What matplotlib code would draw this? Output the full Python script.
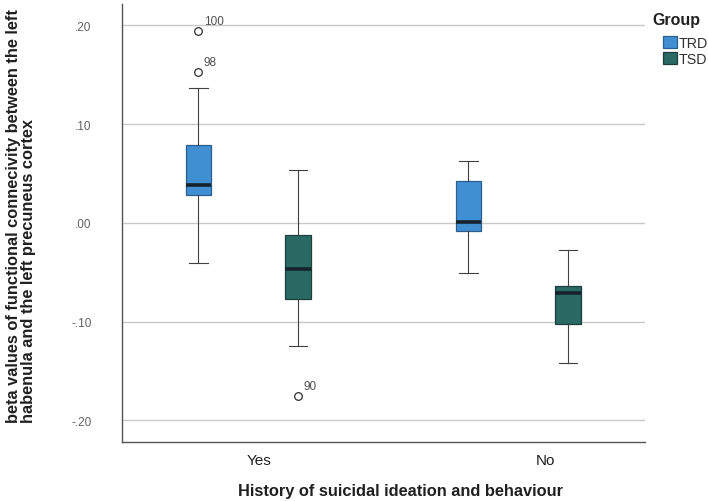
import matplotlib
matplotlib.use("Agg")
import matplotlib.pyplot as plt
import matplotlib.transforms as mtransforms
from matplotlib.patches import Patch

plt.rcParams["font.family"] = ["Liberation Sans", "DejaVu Sans"]

categories = ["Yes", "No"]
groups = ["TRD", "TSD"]
# stats per group, per category (Yes, No)
medians = {"TRD": [0.038, 0.001], "TSD": [-0.047, -0.071]}
q1 = {"TRD": [0.028, -0.008], "TSD": [-0.077, -0.102]}
q3 = {"TRD": [0.079, 0.042], "TSD": [-0.012, -0.064]}
whislo = {"TRD": [-0.041, -0.051], "TSD": [-0.125, -0.142]}
whishi = {"TRD": [0.137, 0.063], "TSD": [0.054, -0.027]}
outliers = {"TRD": [[0.153, 0.194], []], "TSD": [[-0.175], []]}
outlier_ids = {"TRD": [["98", "100"], []], "TSD": [["90"], []]}
yticks = [0.20, 0.10, 0.00, -0.10, -0.20]
ytick_labels = [".20", ".10", ".00", "-.10", "-.20"]

colors = {"TRD": "#408fd3", "TSD": "#2a6a64"}
edges = {"TRD": "#2a5f8f", "TSD": "#1f3f3c"}
offsets = {"TRD": -0.185, "TSD": 0.185}
label_shift_px = [11, 27]

fig = plt.figure(figsize=(7.08, 5.02), dpi=100)
ax = fig.add_axes([0.1723, 0.1175, 0.7387, 0.873])

for g in groups:
    stats = []
    pos = []
    for i, c in enumerate(categories):
        stats.append(dict(med=medians[g][i], q1=q1[g][i], q3=q3[g][i],
                          whislo=whislo[g][i], whishi=whishi[g][i],
                          fliers=outliers[g][i], label=c))
        pos.append(i + offsets[g])
    ax.bxp(stats, positions=pos, widths=0.093, patch_artist=True,
           boxprops=dict(facecolor=colors[g], edgecolor=edges[g], linewidth=0.9),
           medianprops=dict(color="#16232d", linewidth=2.6),
           whiskerprops=dict(color="#404040", linewidth=0.8),
           capprops=dict(color="#404040", linewidth=0.8),
           capwidths=0.07,
           flierprops=dict(marker="o", markersize=5.5, markerfacecolor="white",
                           markeredgecolor="#303030", markeredgewidth=0.9),
           manage_ticks=False, zorder=3)
    for i in range(len(categories)):
        for v, lab in zip(outliers[g][i], outlier_ids[g][i]):
            ax.annotate(lab, (i + offsets[g], v), xytext=(4, 5),
                        textcoords="offset points", fontsize=8.5, color="#505050",
                        zorder=4)

ax.set_xlim(-0.467, 1.47)
ax.set_ylim(-0.222, 0.222)
ax.set_yticks(yticks)
ax.set_yticklabels(ytick_labels, color="#606060", fontsize=8.5)
ax.set_xticks(range(len(categories)))
ax.set_xticklabels(categories, fontsize=11, color="#202020")
ax.tick_params(axis="both", length=0)
ax.tick_params(axis="y", pad=22)
ax.tick_params(axis="x", pad=8)
for lbl, dx in zip(ax.get_xticklabels(), label_shift_px):
    lbl.set_transform(lbl.get_transform() +
                      mtransforms.ScaledTranslation(dx / 100, 0, fig.dpi_scale_trans))
ax.grid(axis="y", color="#c8c8c8", linewidth=1.0, zorder=0)
ax.set_axisbelow(True)
for s in ["top", "right"]:
    ax.spines[s].set_visible(False)
for s in ["left", "bottom"]:
    ax.spines[s].set_color("#555555")
    ax.spines[s].set_linewidth(1.0)

fig.text(0.566, 0.02, "History of suicidal ideation and behaviour", fontsize=11.8,
         fontweight="bold", color="#202020", ha="center", va="center")
fig.text(0.030, 1 - 423 / 502,
         "beta values of functional connecivity between the left\nhabenula and the left precuneus cortex",
         rotation=90, ha="center", va="bottom", multialignment="left",
         fontsize=11.8, fontweight="bold", color="#202020", linespacing=1.0)

fig.text(652 / 708, 1 - 21 / 502, "Group", fontsize=11.5, fontweight="bold",
         color="#202020", ha="left", va="center")
handles = [Patch(facecolor=colors[g], edgecolor=edges[g], linewidth=0.9, label=g)
           for g in groups]
leg = fig.legend(handles=handles, loc="upper left",
                 bbox_to_anchor=(663 / 708, 1 - 37 / 502), frameon=False, fontsize=10.3,
                 handlelength=1.0, handleheight=0.9, handletextpad=0.1,
                 labelspacing=0.15, borderaxespad=0, borderpad=0)
for t in leg.get_texts():
    t.set_color("#303030")

fig.savefig("out.png", dpi=100)
